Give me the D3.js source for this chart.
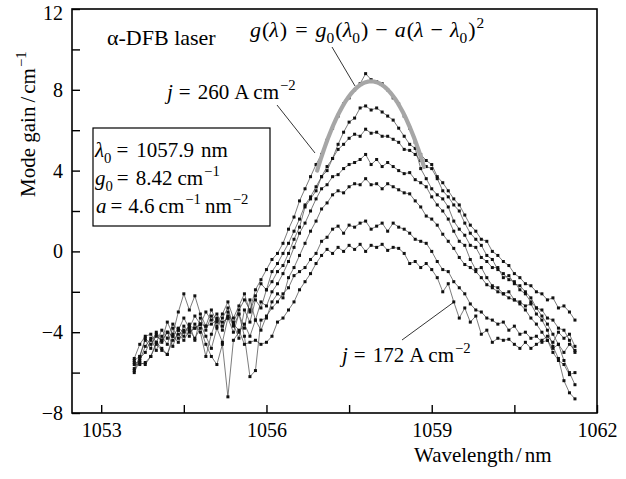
<!DOCTYPE html>
<html lang="en">
<head>
    <meta charset="UTF-8">
    <title>Mode gain spectra</title>
    <script src="https://d3js.org/d3.v7.min.js"></script>
    <style>
        html,
        body {
            margin: 0;
            height: 100%;
            overflow: hidden;
            background: #fff;
        }
        text {
            font-family: "Liberation Serif", "Times New Roman", serif;
            fill: #000;
            white-space: pre;
        }
    </style>
</head>
<body>
    <svg id="svg"></svg>
    <script>
        // sampled wavelengths (nm)
        const wavelength = [
            1053.6, 1053.7, 1053.8, 1053.9, 1054.0, 1054.1, 1054.2, 1054.3, 1054.4, 1054.5,
            1054.6, 1054.7, 1054.8, 1054.9, 1055.0, 1055.1, 1055.2, 1055.3, 1055.4, 1055.5,
            1055.6, 1055.7, 1055.8, 1055.9, 1056.0, 1056.1, 1056.2, 1056.3, 1056.4, 1056.5,
            1056.6, 1056.7, 1056.8, 1056.9, 1057.0, 1057.1, 1057.2, 1057.3, 1057.4, 1057.5,
            1057.6, 1057.7, 1057.8, 1057.9, 1058.0, 1058.1, 1058.2, 1058.3, 1058.4, 1058.5,
            1058.6, 1058.7, 1058.8, 1058.9, 1059.0, 1059.1, 1059.2, 1059.3, 1059.4, 1059.5,
            1059.6, 1059.7, 1059.8, 1059.9, 1060.0, 1060.1, 1060.2, 1060.3, 1060.4, 1060.5,
            1060.6, 1060.7, 1060.8, 1060.9, 1061.0, 1061.1, 1061.2, 1061.3, 1061.4, 1061.5,
            1061.6
        ];

        // mode gain (cm^-1), highest current (j = 260) first, lowest (j = 172) last
        const curve1 = [
            -5.3, -4.6, -4.2, -4.1, -4.5, -3.9, -4.3, -3.6, -3.9, -3.3,
            -3.8, -3.2, -3.6, -3.0, -3.4, -3.1, -3.7, -3.2, -3.5, -2.9,
            -2.4, -2.9, -1.9, -1.4, -0.9, -0.4, -0.1, 0.4, 1.1, 1.7,
            2.5, 3.1, 3.7, 4.3, 4.8, 5.5, 6.1, 6.7, 7.3, 7.6,
            8.0, 8.3, 8.8, 8.5, 8.4, 8.3, 8.0, 7.6, 7.3, 6.7,
            6.1, 5.4, 4.8, 4.5, 4.3, 3.7, 3.4, 3.0, 2.6, 2.3,
            1.8, 1.3, 1.0, 0.6, 0.5, 0.0, -0.2, -0.5, -0.7, -1.1,
            -1.3, -1.6, -1.7, -2.0, -2.1, -2.4, -2.3, -2.8, -2.7, -3.0,
            -3.4
        ];
        const curve2 = [
            -5.8, -5.2, -4.4, -4.8, -4.0, -4.4, -3.5, -4.1, -3.0, -2.1,
            -2.9, -2.2, -3.1, -3.7, -2.9, -3.5, -3.1, -2.5, -3.3, -2.7,
            -2.1, -3.0, -2.2, -1.6, -1.9, -1.0, -0.6, -0.1, 0.4, 1.0,
            1.6, 2.3, 2.7, 3.2, 3.7, 4.0, 4.6, 5.3, 5.9, 6.4,
            6.6, 7.1, 7.2, 7.0, 7.1, 6.9, 6.7, 6.5, 6.1, 5.7,
            5.3, 5.1, 4.1, 3.6, 3.1, 2.8, 2.6, 2.2, 1.5, 1.1,
            0.8, 0.3, 0.2, -0.3, -0.5, -0.8, -0.8, -1.3, -1.2, -1.6,
            -1.7, -2.0, -2.3, -2.8, -2.9, -3.3, -3.4, -3.8, -3.9, -4.4,
            -5.0
        ];
        const curve3 = [
            -5.5, -5.5, -5.6, -5.2, -4.6, -4.9, -5.1, -4.2, -4.5, -3.9,
            -4.2, -3.6, -4.0, -5.2, -4.1, -3.3, -3.9, -3.0, -3.6, -4.3,
            -2.9, -3.5, -2.4, -2.8, -1.9, -1.5, -1.0, -0.7, -0.1, 0.6,
            1.2, 2.2, 2.6, 3.0, 3.7, 4.2, 4.6, 5.05, 5.3, 5.6,
            5.8, 5.7, 6.05, 5.85, 5.9, 5.7, 5.7, 5.55, 5.4, 5.05,
            5.0, 4.8, 4.5, 4.2, 4.1, 3.6, 3.0, 2.7, 2.3, 2.0,
            1.4, 0.9, 0.6, 0.3, -0.2, -0.4, -0.9, -1.1, -1.4, -1.5,
            -1.9, -2.1, -2.5, -2.8, -3.2, -3.6, -4.1, -4.6, -5.4, -6.0,
            -6.6
        ];
        const curve4 = [
            -6.0, -5.4, -4.7, -4.3, -4.9, -4.2, -4.6, -3.8, -4.3, -3.7,
            -4.0, -3.8, -3.6, -4.2, -4.8, -3.8, -4.5, -3.3, -4.0, -3.1,
            -3.8, -2.4, -3.4, -2.5, -2.7, -2.0, -1.6, -1.1, -0.5, 0.2,
            0.9, 1.4, 2.0, 2.6, 3.1, 3.3, 3.7, 3.8, 4.1, 4.3,
            4.4, 4.55, 4.8, 4.3, 4.55, 4.2, 4.4, 4.2, 4.0, 3.85,
            3.9, 3.55, 3.4, 3.2, 2.7, 2.3, 2.0, 1.6, 1.0, 0.5,
            0.3, -0.4, -0.9, -0.8, -1.3, -1.7, -1.8, -2.1, -2.0, -2.4,
            -2.5, -2.7, -2.6, -3.1, -3.4, -3.9, -4.7, -5.3, -6.4, -7.0,
            -7.3
        ];
        const curve5 = [
            -5.9, -5.3, -5.0, -4.4, -4.1, -4.5, -4.0, -4.7, -3.9, -4.2,
            -3.6, -4.4, -3.3, -3.9, -3.2, -3.7, -3.3, -2.8, -3.7, -3.1,
            -4.2, -6.2, -5.9, -3.4, -3.3, -2.5, -2.1, -2.3, -1.3, -0.8,
            -0.2, 0.4, 1.0, 1.5, 2.1, 2.4, 2.8, 3.0, 2.9, 3.2,
            3.35, 3.3, 3.6, 3.3, 3.35, 3.1, 3.35, 3.2, 3.05, 2.9,
            2.85, 2.5, 2.2, 1.75, 1.6, 1.3, 0.85, 0.5, 0.15, -0.3,
            -0.65, -0.8, -1.0, -1.3, -1.65, -1.8, -2.0, -2.1, -2.3, -2.4,
            -2.6, -2.9, -3.3, -3.6, -4.0, -4.4, -5.0, -5.4, -5.6, -6.1,
            -6.0
        ];
        const curve6 = [
            -5.6, -5.6, -5.5, -5.2, -4.5, -4.8, -5.1, -4.4, -4.1, -4.4,
            -3.9, -4.3, -3.8, -4.6, -5.2, -5.6, -4.6, -7.2, -4.4, -4.0,
            -3.6, -4.2, -3.4, -3.9, -3.2, -2.8, -2.5, -2.1, -1.8, -1.2,
            -1.0, -0.8, -0.4, -0.1, 0.5, 0.7, 1.1, 1.25, 0.9, 1.3,
            1.2, 1.4, 1.5, 1.1, 1.25, 1.4, 1.0, 1.4, 1.2, 1.1,
            0.9, 0.6, 0.5, 0.4, 0.0, -0.5, -0.9, -1.0, -1.5, -1.8,
            -2.1, -2.6, -2.9, -3.0, -3.3, -3.4, -3.6, -3.5, -3.9, -3.7,
            -4.1, -4.0, -4.3, -4.2, -4.5, -4.4, -4.8, -4.6, -5.0, -4.6,
            -4.9
        ];
        const curve7 = [
            -5.4, -5.2, -4.3, -4.6, -4.2, -4.4, -4.0, -4.2, -3.8, -4.0,
            -3.7, -3.8, -3.6, -3.7, -3.6, -3.4, -3.5, -3.3, -3.6, -3.9,
            -4.6, -4.5, -4.4, -4.6, -4.5, -4.2, -3.5, -3.3, -2.9, -2.5,
            -1.9, -1.5, -1.1, -0.6, -0.2, 0.1, -0.1, 0.2, 0.0, 0.3,
            0.1, 0.35, 0.0, 0.3, 0.2, 0.35, 0.05, 0.2, 0.15, -0.1,
            -0.6, -0.5, -0.8, -0.6, -0.9, -1.3, -2.0, -1.6, -2.5, -3.3,
            -2.8, -3.5, -3.2, -4.1, -3.9, -4.5, -4.3, -4.4, -4.35, -4.6,
            -4.8, -4.5, -4.8, -4.6, -4.4, -4.2, -4.5, -4.0, -4.3, -4.1,
            -4.7
        ];
        const curves = [curve1, curve2, curve3, curve4, curve5, curve6, curve7];

        // parabolic fit of the j = 260 curve
        const lambda0 = 1057.9;
        const g0 = 8.42;
        const aFit = 4.6;
        const fitRange = [1056.92, 1058.86];

        const xMajor = [1053, 1056, 1059, 1062];
        const xMinor = [1054.5, 1057.5, 1060.5];
        const yMajor = [-8, -4, 0, 4, 8, 12];
        const yMinor = [-6, -2, 2, 6, 10];

        const width = 626, height = 479;
        const svg = d3.select('#svg').attr('width', width).attr('height', height);
        const margin = { top: 9, left: 72, right: 29, bottom: 66 };

        const x = d3.scaleLinear().domain([1052.47, 1062]).range([margin.left, width - margin.right]);
        const y = d3.scaleLinear().domain([-8, 12]).range([height - margin.bottom, margin.top]);

        // ticks
        svg.append('g').attr('transform', `translate(0,${y(-8)})`)
            .call(d3.axisBottom(x).tickValues(xMajor).tickSize(-8).tickPadding(10).tickFormat(d3.format('d')));
        svg.append('g').attr('transform', `translate(0,${y(-8)})`)
            .call(d3.axisBottom(x).tickValues(xMinor).tickSize(-8).tickFormat(''));
        const yAx = svg.append('g').attr('transform', `translate(${x.range()[0]},0)`)
            .call(d3.axisLeft(y).tickValues(yMajor).tickSize(-8).tickPadding(9).tickFormat(d3.format('d')));
        svg.append('g').attr('transform', `translate(${x.range()[0]},0)`)
            .call(d3.axisLeft(y).tickValues(yMinor).tickSize(-8).tickFormat(''));
        svg.selectAll('.domain').remove();
        svg.selectAll('.tick line').attr('stroke', '#000').attr('stroke-width', 1.4);
        svg.selectAll('.tick text').attr('font-size', 20)
            .attr('font-family', '"Liberation Serif", "Times New Roman", serif');
        // keep the top label inside the picture
        yAx.selectAll('.tick text').filter(d => d === 12).attr('dy', '0.5em');

        // frame
        svg.append('rect')
            .attr('x', x.range()[0]).attr('y', y.range()[1])
            .attr('width', x.range()[1] - x.range()[0])
            .attr('height', y.range()[0] - y.range()[1])
            .attr('fill', 'none').attr('stroke', '#000').attr('stroke-width', 1.6);

        // data curves
        const line = d3.line().x((d, i) => x(wavelength[i])).y(d => y(d));
        const plot = svg.append('g');
        plot.selectAll('path.curve').data(curves).join('path')
            .attr('class', 'curve')
            .attr('d', line)
            .attr('fill', 'none')
            .attr('stroke', '#444')
            .attr('stroke-width', 0.7);
        curves.forEach(c => {
            plot.append('g').selectAll('rect').data(c).join('rect')
                .attr('x', (d, i) => x(wavelength[i]) - 1.5)
                .attr('y', d => y(d) - 1.5)
                .attr('width', 3)
                .attr('height', 3)
                .attr('fill', '#111');
        });

        // fitted parabola
        const fitX = d3.range(fitRange[0], fitRange[1] + 0.001, 0.02);
        svg.append('path')
            .attr('d', d3.line().x(d => x(d)).y(d => y(g0 - aFit * (d - lambda0) ** 2))(fitX))
            .attr('fill', 'none')
            .attr('stroke', '#a6a6a6')
            .attr('stroke-width', 4.2)
            .attr('stroke-linecap', 'round');

        // rich text helper: parts [{t, i, sub, sup, x, dx}]
        const rich = (parent, px, py, parts, size, anchor) => {
            const t = parent.append('text').attr('x', px).attr('y', py)
                .attr('font-size', size).attr('text-anchor', anchor || 'start');
            let shift = 0;
            parts.forEach(p => {
                const s = p.sub ? size * 0.28 : p.sup ? -size * 0.42 : 0;
                const ts = t.append('tspan')
                    .attr('dy', s - shift)
                    .attr('font-size', (p.sub || p.sup) ? size * 0.7 : size)
                    .attr('font-style', p.i ? 'italic' : 'normal')
                    .text(p.t);
                if (p.x !== undefined) ts.attr('x', p.x);
                if (p.dx !== undefined) ts.attr('dx', p.dx);
                shift = s;
            });
            return t;
        };

        const fs = 21;

        // labels
        rich(svg, 107, 45, [{ t: 'α-DFB laser' }], 22);
        rich(svg, 250, 37, [
            { t: 'g', i: 1 }, { t: '(', dx: 1 }, { t: 'λ', i: 1 }, { t: ')', dx: 1 },
            { t: '=', dx: 8 },
            { t: 'g', i: 1, dx: 8 }, { t: '0', sub: 1 }, { t: '(', dx: 1 }, { t: 'λ', i: 1 },
            { t: '0', sub: 1 }, { t: ')', dx: 1 },
            { t: '−', dx: 7 },
            { t: 'a', i: 1, dx: 7 }, { t: '(', dx: 1 }, { t: 'λ', i: 1 },
            { t: '−', dx: 7 },
            { t: 'λ', i: 1, dx: 7 }, { t: '0', sub: 1 }, { t: ')', dx: 1 }, { t: '2', sup: 1, dx: 1 }
        ], 22);
        rich(svg, 167, 99, [
            { t: 'j', i: 1 }, { t: '=', dx: 6 }, { t: '260', dx: 7 },
            { t: 'A', dx: 5 }, { t: 'cm', dx: 4 }, { t: '−2', sup: 1, dx: 1 }
        ], fs);
        rich(svg, 342, 362, [
            { t: 'j', i: 1 }, { t: '=', dx: 6 }, { t: '172', dx: 7 },
            { t: 'A', dx: 5 }, { t: 'cm', dx: 4 }, { t: '−2', sup: 1, dx: 1 }
        ], fs);

        svg.append('rect').attr('x', 93).attr('y', 128).attr('width', 177).attr('height', 98)
            .attr('fill', '#fff').attr('stroke', '#000').attr('stroke-width', 1.2);
        rich(svg, 95, 157, [
            { t: 'λ', i: 1 }, { t: '0', sub: 1 }, { t: '=', dx: 5 },
            { t: '1057.9', dx: 8 }, { t: 'nm', dx: 7 }
        ], fs);
        rich(svg, 95, 185, [
            { t: 'g', i: 1 }, { t: '0', sub: 1 }, { t: '=', dx: 4 },
            { t: '8.42', dx: 7 }, { t: 'cm', dx: 5 }, { t: '−1', sup: 1, dx: 1 }
        ], fs);
        rich(svg, 96, 213, [
            { t: 'a', i: 1 }, { t: '=', dx: 4 }, { t: '4.6', dx: 6 },
            { t: 'cm', dx: 4 }, { t: '−1', sup: 1, dx: 1 }, { t: 'nm', dx: 4 }, { t: '−2', sup: 1, dx: 1 }
        ], fs);

        // leader lines
        const leaders = [
            [[277, 105], [315, 153]],
            [[332, 47], [355, 86]],
            [[402, 340], [454, 302]]
        ];
        svg.selectAll('line.leader').data(leaders).join('line')
            .attr('class', 'leader')
            .attr('x1', d => d[0][0]).attr('y1', d => d[0][1])
            .attr('x2', d => d[1][0]).attr('y2', d => d[1][1])
            .attr('stroke', '#000').attr('stroke-width', 0.8);

        // axis titles
        rich(svg, 414, 462, [{ t: 'Wavelength' }, { t: '/', dx: 2 }, { t: 'nm', dx: 3 }], fs);
        const yTitle = svg.append('g').attr('transform', 'translate(35,0) rotate(-90)');
        rich(yTitle, -197, 0, [
            { t: 'Mode gain' }, { t: '/', dx: 4 }, { t: 'cm', dx: 3 }, { t: '−1', sup: 1, dx: 1 }
        ], fs);
    </script>
</body>
</html>
